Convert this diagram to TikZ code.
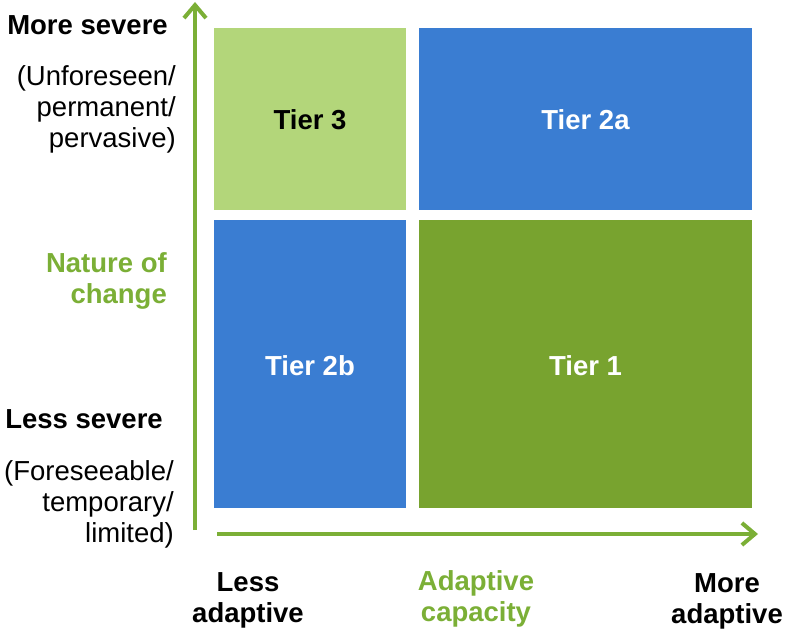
\documentclass[tikz,border=0pt]{standalone}
\usepackage{fontspec}
\setmainfont{Liberation Sans}
\usetikzlibrary{arrows.meta}
\definecolor{lgreen}{HTML}{B3D67A}
\definecolor{tblue}{HTML}{3A7DD2}
\definecolor{dgreen}{HTML}{78A32F}
\definecolor{agreen}{HTML}{7BAF36}
\tikzset{
  tier/.style={rectangle, inner sep=0pt, text height=22pt, text depth=0pt, font=\fontsize{27.5}{31}\selectfont\bfseries},
  lbl/.style={inner sep=0pt, font=\fontsize{27.5}{31}\selectfont},
  blbl/.style={inner sep=0pt, font=\fontsize{27.5}{31}\selectfont\bfseries},
  axis/.style={draw=agreen, line width=4pt, -{Straight Barb[length=13pt,width=22pt]}}
}
\begin{document}
\begin{tikzpicture}[x=1pt,y=-1pt]
\useasboundingbox (0,0) rectangle (786,631);
% tiles
\node[tier, fill=lgreen, text=black, minimum width=192pt, minimum height=182pt] (t3) at (310,119) {Tier 3};
\node[tier, fill=tblue, text=white, minimum width=333pt, minimum height=182pt] (t2a) at (585.5,119) {Tier 2a};
\node[tier, fill=tblue, text=white, minimum width=192pt, minimum height=288pt] (t2b) at (310,364) {Tier 2b};
\node[tier, fill=dgreen, text=white, minimum width=333pt, minimum height=288pt] (t1) at (585.5,364) {Tier 1};
% axes
\coordinate (vs) at (195,530);
\coordinate (ve) at (195,2);
\coordinate (hs) at (217,534);
\coordinate (he) at (758,534);
\draw[axis] (vs) -- (ve);
\draw[axis] (hs) -- (he);
% left labels
\node[blbl, anchor=base east] (ms) at (168,35) {More severe};
\node[lbl, align=right, anchor=north east] (msd) at (176,65) {(Unforeseen/\\permanent/\\pervasive)};
\node[blbl, text=agreen, align=right, anchor=north east] (noc) at (167,252) {Nature of\\change};
\node[blbl, anchor=base east] (ls) at (163,428) {Less severe};
\node[lbl, align=right, anchor=north east] (lsd) at (174,460) {(Foreseeable/\\temporary/\\limited)};
% bottom labels
\node[blbl, align=center, anchor=north] (la) at (248,572) {Less\\adaptive};
\node[blbl, text=agreen, align=center, anchor=north] (ac) at (476,570) {Adaptive\\capacity};
\node[blbl, align=center, anchor=north] (ma) at (727,573) {More\\adaptive};
\end{tikzpicture}
\end{document}
